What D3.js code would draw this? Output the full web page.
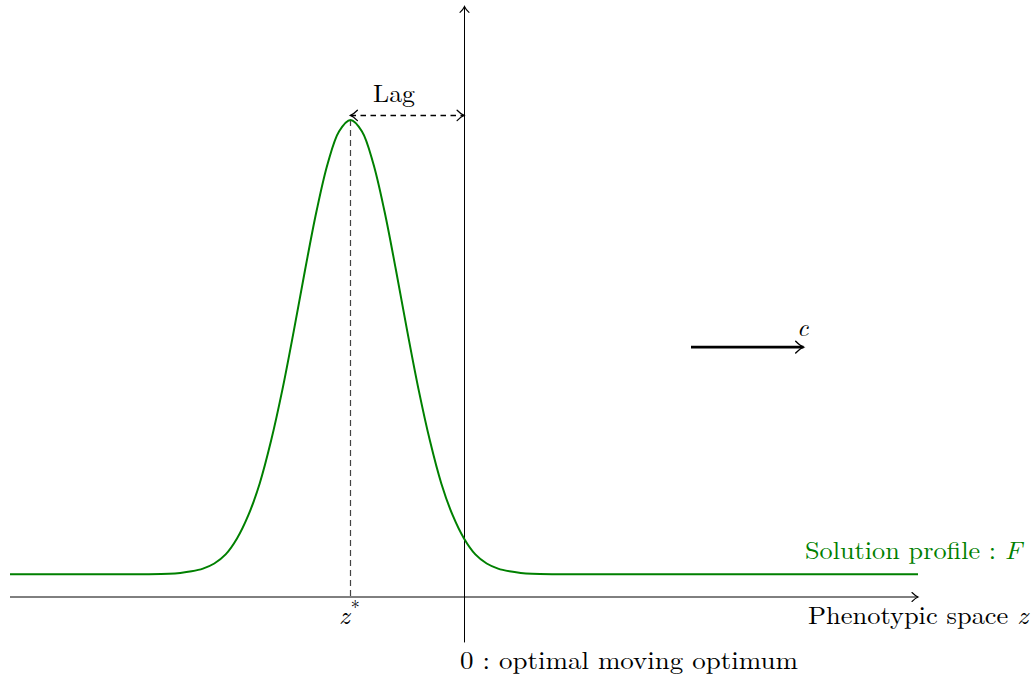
<!DOCTYPE html>
<html><head><meta charset="utf-8">
<script src="https://cdn.jsdelivr.net/npm/d3@7"></script>
<style>
html,body{margin:0;padding:0;background:#fff;}
text{font-family:"Latin Modern Roman","CMU Serif","Liberation Serif","DejaVu Serif",serif;}
</style></head>
<body>
<svg id="c" width="1033" height="676"></svg>
<script>
// Solution profile F(z)
const zValues = [-4, -3, -2.8, -2.6, -2.5, -2.4, -2.3, -2.2, -2.1, -2.0, -1.9, -1.8, -1.7, -1.6, -1.5, -1.4, -1.3, -1.2, -1.1, -1.0,
                 -0.9, -0.8, -0.7, -0.6, -0.5, -0.4, -0.3, -0.2, -0.1, 0.0, 0.1, 0.2, 0.3, 0.4, 0.5, 0.6, 0.8, 1.0, 2.0, 3.0, 4.0];
const fValues = [0.2, 0.2, 0.201, 0.205, 0.212, 0.226, 0.25, 0.295, 0.375, 0.515, 0.72, 1.0, 1.375, 1.826, 2.341, 2.881, 3.394, 3.819, 4.101, 4.2,
                 4.101, 3.819, 3.394, 2.881, 2.341, 1.826, 1.375, 1.0, 0.72, 0.515, 0.375, 0.295, 0.25, 0.226, 0.212, 0.205, 0.201, 0.2, 0.2, 0.2, 0.2];
const zStar = -1;          // location of the peak
const lagLevel = 4.24;     // height of the Lag arrow
const speedArrow = {z0: 2, z1: 3, level: 2.2};
const xDomain = [-4, 4];
const yAxisDomain = [-0.4, 5.2];
const labels = {
  profile: "Solution profile : ",
  profileVar: "F",
  xAxis: "Phenotypic space ",
  xAxisVar: "z",
  origin: "0 : optimal moving optimum",
  lag: "Lag",
  speed: "c"
};

const svg = d3.select("#c");
const x = d3.scaleLinear().domain(xDomain).range([10, 918]);
const y = d3.scaleLinear().domain([0, 4.2]).range([597, 120]);

const defs = svg.append("defs");
function mk(id, color, w) {
  defs.append("marker").attr("id", id).attr("viewBox", "-8 -6 10 12")
    .attr("refX", 0).attr("refY", 0).attr("markerUnits", "userSpaceOnUse")
    .attr("markerWidth", 10 * w).attr("markerHeight", 12 * w).attr("orient", "auto-start-reverse")
    .append("path").attr("d", "M-6,-4.5 Q-2.5,-1 0,0 Q-2.5,1 -6,4.5")
    .attr("fill", "none").attr("stroke", color).attr("stroke-width", 1.1).attr("stroke-linecap", "round");
}
mk("arr", "#000", 1);
mk("arrL", "#000", 1.15);
mk("arrB", "#000", 1.3);

function fit(t, x0, x1) {
  t.attr("x", x0).attr("text-anchor", "start");
  const w = t.node().getComputedTextLength();
  if (w > 0 && Math.abs(w - (x1 - x0)) > 1) {
    t.attr("textLength", x1 - x0).attr("lengthAdjust", "spacingAndGlyphs");
  }
  return t;
}

// x axis
svg.append("line").attr("x1", x(xDomain[0])).attr("x2", x(xDomain[1]))
  .attr("y1", y(0)).attr("y2", y(0)).attr("stroke", "#000").attr("stroke-width", 1)
  .attr("marker-end", "url(#arr)");
// vertical axis at z=0
svg.append("line").attr("x1", x(0) + 0.5).attr("x2", x(0) + 0.5)
  .attr("y1", y(yAxisDomain[0])).attr("y2", y(yAxisDomain[1])).attr("stroke", "#000").attr("stroke-width", 1)
  .attr("marker-end", "url(#arr)");

// z* dashed line
svg.append("line").attr("x1", x(zStar)).attr("x2", x(zStar))
  .attr("y1", y(4.2)).attr("y2", y(0)).attr("stroke", "#444").attr("stroke-width", 1.2)
  .attr("stroke-dasharray", "6,4");

// Curve
const line = d3.line().x((d, i) => x(zValues[i])).y((d, i) => y(fValues[i])).curve(d3.curveCatmullRom.alpha(0.5));
svg.append("path").datum(fValues).attr("d", line).attr("fill", "none")
  .attr("stroke", "#008000").attr("stroke-width", 2);

// Lag arrow
svg.append("line").attr("x1", x(zStar)).attr("x2", x(0))
  .attr("y1", y(lagLevel)).attr("y2", y(lagLevel)).attr("stroke", "#000").attr("stroke-width", 1.6)
  .attr("stroke-dasharray", "5.5,4.5")
  .attr("marker-start", "url(#arrL)").attr("marker-end", "url(#arrL)");
fit(svg.append("text").attr("y", 102).attr("font-size", 25).text(labels.lag), 373, 415);

// speed arrow c
svg.append("line").attr("x1", x(speedArrow.z0)).attr("x2", x(speedArrow.z1) - 1)
  .attr("y1", y(speedArrow.level)).attr("y2", y(speedArrow.level)).attr("stroke", "#000").attr("stroke-width", 2.6)
  .attr("marker-end", "url(#arrB)");
svg.append("text").attr("x", 797).attr("y", 336).attr("font-size", 25).attr("font-style", "italic").text(labels.speed);

// Profile label
const pt = svg.append("text").attr("y", 559).attr("font-size", 25).attr("fill", "#008000");
pt.append("tspan").text(labels.profile);
pt.append("tspan").attr("font-style", "italic").text(labels.profileVar);
fit(pt, 805, 1022);

// x axis label
const xt = svg.append("text").attr("y", 624).attr("font-size", 25);
xt.append("tspan").text(labels.xAxis);
xt.append("tspan").attr("font-style", "italic").text(labels.xAxisVar);
fit(xt, 808, 1028);

// z* label
const zs = svg.append("text").attr("x", 339).attr("y", 624).attr("font-size", 26);
zs.append("tspan").attr("font-style", "italic").text("z");
zs.append("tspan").attr("font-size", 18).attr("dy", -10).attr("dx", 1).text("*");

// origin label
fit(svg.append("text").attr("y", 669).attr("font-size", 25).text(labels.origin), 460, 798);
</script>
</body></html>
